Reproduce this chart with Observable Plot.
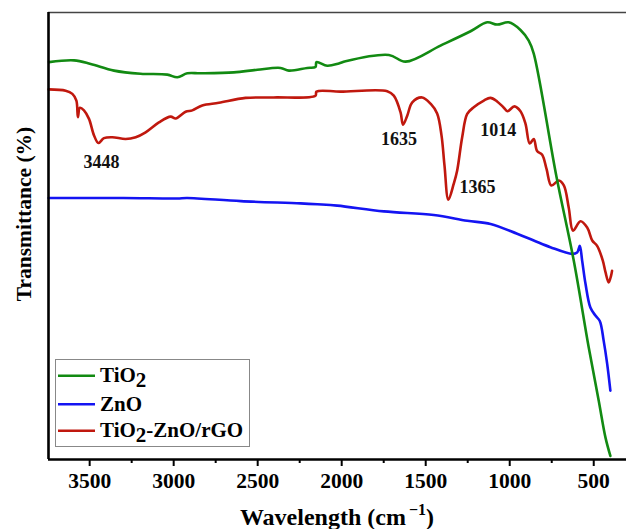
<!DOCTYPE html>
<html><head><meta charset="utf-8">
<script src="https://cdn.jsdelivr.net/npm/d3@7"></script>
<script src="https://cdn.jsdelivr.net/npm/@observablehq/plot@0.6"></script>
<style>body{margin:0;background:#fff;} svg{display:block}</style>
</head><body><div id="chart"></div>
<script>
// ---- data (wavenumber in cm^-1, transmittance in arbitrary %) ----
const seriesNames = ["TiO2", "ZnO", "TiO2-ZnO/rGO"];
const seriesColors = ["#128a12", "#1414f2", "#c0180e"];

const tio2Wn = [3742,3593,3494,3355,3197,3038,2978,2919,2840,2642,2502,2364,2314,2205,2156,2150,2086,2017,1977,1719,1620,1412,1233,1134,1075,1006,936,887,857,722,619,530,470,430,401];
const tio2T  = [88.9,89.3,88.5,87.0,86.3,86.1,85.5,86.4,86.4,86.6,87.2,87.6,87.0,87.6,87.8,88.9,88.1,88.6,89.1,90.5,89.0,92.6,95.8,97.8,97.3,97.8,96.1,93.7,90.8,63.3,44.5,25.1,13.1,4.9,0.8];

const znoWn = [3744,3300,2978,2920,2600,2245,2145,2027,1749,1452,1253,1114,956,857,758,629,599,583,569,549,520,490,464,441,420,401];
const znoT  = [58.5,58.5,58.4,58.5,57.8,57.3,57.1,56.8,55.5,54.7,53.4,52.7,50.5,49.0,47.5,46.0,46.3,47.8,44.5,39.3,34.0,32.2,31.0,26.6,21.4,15.4];

const compWn = [3744,3643,3603,3579,3570,3558,3534,3504,3474,3448,3415,3365,3286,3226,3167,3088,3018,2988,2929,2889,2830,2731,2572,2405,2156,2150,2007,1729,1690,1650,1635,1610,1580,1521,1471,1432,1406,1388,1365,1333,1313,1283,1253,1214,1154,1115,1075,1035,1014,972,936,906,881,857,837,807,781,752,708,678,649,623,579,539,509,480,446,430,411,397,391];
const compT  = [82.8,82.5,81.8,80.3,76.6,78.7,78.1,76.2,72.5,70.8,71.9,72.1,71.7,72.1,73.2,75.4,76.7,76.3,77.8,78.1,79.2,79.8,80.9,81.0,81.4,82.3,82.3,82.4,81.4,77.7,74.9,76.9,79.9,81.0,79.6,77.4,72.5,65.7,58.1,61.7,64.6,72.1,77.3,78.8,80.3,80.9,80.1,78.7,77.9,79.0,77.9,75.1,70.7,71.7,69.0,68.2,65.0,61.3,62.4,61.3,56.4,51.2,53.3,51.9,49.0,47.8,44.5,41.9,39.6,41.1,42.2];

const peakWn = [3448, 1635, 1365, 1014];
const peakT = [70.8, 74.9, 58.1, 77.9];
const peakLabels = ["3448", "1635", "1365", "1014"];

const majorTicks = [3500, 3000, 2500, 2000, 1500, 1000, 500];
const minorTicks = [3250, 2750, 2250, 1750, 1250, 750];

const xDomain = [3745, 305];
const yDomain = [0, 100];

// ---- build rows ----
const toRows = (wn, t, s) => wn.map((w, i) => ({wn: w, t: t[i], s}));
const tio2 = toRows(tio2Wn, tio2T, seriesNames[0]);
const zno = toRows(znoWn, znoT, seriesNames[1]);
const comp = toRows(compWn, compT, seriesNames[2]);
const peaks = peakWn.map((w, i) => ({wn: w, t: peakT[i], label: peakLabels[i]}));
const peakOffsets = [[3, 19], [-4, 15], [29, -13], [-9, 19]];

const FONT = "'Liberation Serif', 'Times New Roman', serif";

const chart = Plot.plot({
  width: 626, height: 529,
  marginLeft: 48, marginRight: 0, marginTop: 12, marginBottom: 70,
  style: {fontFamily: FONT, fontWeight: "bold", fontSize: "21px", background: "#fff", color: "#000"},
  x: {domain: xDomain, axis: null},
  y: {domain: yDomain, axis: null},
  marks: [
    Plot.line(comp, {x: "wn", y: "t", stroke: seriesColors[2], strokeWidth: 2.6, curve: "catmull-rom"}),
    Plot.line(zno, {x: "wn", y: "t", stroke: seriesColors[1], strokeWidth: 2.6, curve: "catmull-rom"}),
    Plot.line(tio2, {x: "wn", y: "t", stroke: seriesColors[0], strokeWidth: 2.6, curve: "catmull-rom"}),
    ...peaks.map((p, i) => Plot.text([p], {x: "wn", y: "t", text: "label", dx: peakOffsets[i][0], dy: peakOffsets[i][1], fontSize: 18, fontWeight: "bold", fill: "#111"})),
    Plot.ruleY([yDomain[1]], {stroke: "#444", strokeWidth: 1.6}),
    Plot.ruleX([xDomain[0]], {stroke: "#000", strokeWidth: 2.6}),
    Plot.ruleY([yDomain[0]], {stroke: "#000", strokeWidth: 2.6}),
    Plot.axisX(majorTicks, {tickSize: 7, tickPadding: 6, strokeWidth: 2, tickFormat: d => String(d), label: null, fontSize: 21.5}),
    Plot.axisX(minorTicks, {tickSize: 4, strokeWidth: 2, tickFormat: () => "", label: null})
  ]
});

document.getElementById("chart").appendChild(chart);

const svg = d3.select(chart);

// y title
svg.append("text")
  .attr("transform", "translate(31,214) rotate(-90)")
  .attr("text-anchor", "middle")
  .style("font-family", FONT).style("font-weight", "bold").style("font-size", "21.5px")
  .attr("fill", "#000")
  .text("Transmittance (%)");

// x title
const xt = svg.append("text")
  .attr("x", 337).attr("y", 525)
  .attr("text-anchor", "middle")
  .style("font-family", FONT).style("font-weight", "bold").style("font-size", "24px")
  .attr("fill", "#000");
xt.append("tspan").text("Wavelength (cm");
xt.append("tspan").attr("dy", -10).attr("dx", 3).style("font-size", "16px").text("\u22121");
xt.append("tspan").attr("dy", 10).style("font-size", "24px").text(")");

// legend
const lg = svg.append("g");
lg.append("rect").attr("x", 55.5).attr("y", 359.5).attr("width", 194).attr("height", 87)
  .attr("fill", "#fff").attr("stroke", "#888").attr("stroke-width", 1);
const legendY = [375.7, 404.3, 430.7];
seriesNames.forEach((name, i) => {
  lg.append("line").attr("x1", 58).attr("x2", 95).attr("y1", legendY[i]).attr("y2", legendY[i])
    .attr("stroke", seriesColors[i]).attr("stroke-width", 2.6);
  const t = lg.append("text").attr("x", 100).attr("y", legendY[i] + 6.5)
    .attr("text-anchor", "start")
    .style("font-family", FONT).style("font-weight", "bold").style("font-size", "21px").attr("fill", "#000");
  const parts = name.split("2");
  if (parts.length > 1) {
    t.append("tspan").text(parts[0]);
    t.append("tspan").attr("dy", 5).text("2");
    t.append("tspan").attr("dy", -5).text(parts.slice(1).join("2"));
  } else {
    t.append("tspan").text(name);
  }
});
</script></body></html>
